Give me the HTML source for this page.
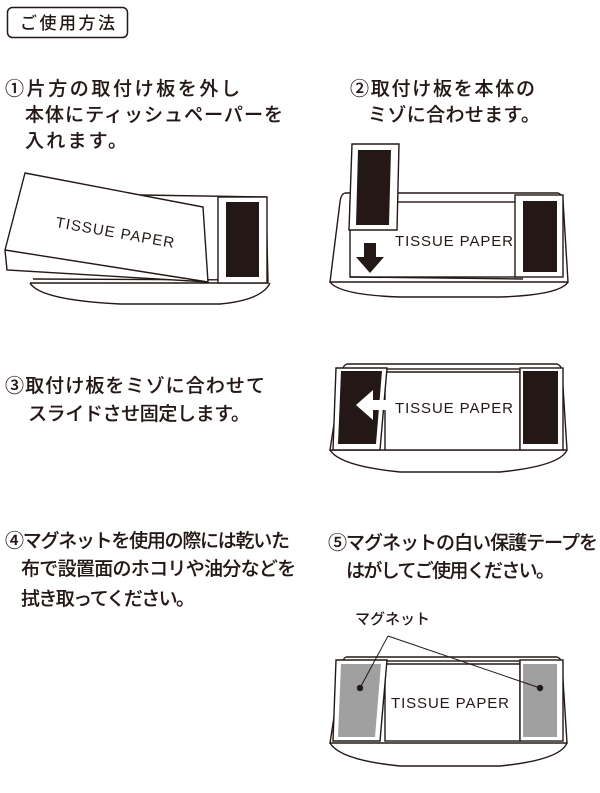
<!DOCTYPE html>
<html><head><meta charset="utf-8"><style>
html,body{margin:0;padding:0;background:#fff;}
svg{display:block;}
text{font-family:"Liberation Sans","Noto Sans CJK JP",sans-serif;fill:#231815;}
.j{font-size:19px;font-weight:500;stroke:#231815;stroke-width:0.12;}
.tp{font-size:15px;}
</style></head><body>
<svg width="600" height="793" viewBox="0 0 600 793" xmlns="http://www.w3.org/2000/svg" fill="none" stroke="#231815" stroke-width="1.4">
<rect x="7.5" y="7.5" width="120" height="30" rx="5" stroke-width="1.5"/>
<text x="20" y="29" style="font-size:17px;font-weight:500" stroke="none" textLength="95">ご使用方法</text>

<g>
<text class="j" x="5" y="95" textLength="235">①片方の取付け板を外し</text>
<text class="j" x="25" y="121" textLength="258">本体にティッシュペーパーを</text>
<text class="j" x="25" y="147" textLength="102">入れます。</text>
<text class="j" x="350" y="95" textLength="185">②取付け板を本体の</text>
<text class="j" x="368" y="121" textLength="172">ミゾに合わせます。</text>
<text class="j" x="5" y="392" textLength="260">③取付け板をミゾに合わせて</text>
<text class="j" x="28" y="420" textLength="222">スライドさせ固定します。</text>
<text class="j" x="5" y="547" textLength="285">④マグネットを使用の際には乾いた</text>
<text class="j" x="21" y="575" style="letter-spacing:-0.7px">布で設置面のホコリや油分などを</text>
<text class="j" x="21" y="605" textLength="174">拭き取ってください。</text>
<text class="j" x="328" y="549" textLength="270">⑤マグネットの白い保護テープを</text>
<text class="j" x="346" y="577" textLength="209">はがしてご使用ください。</text>
</g>

<!-- Diagram 1 -->
<path d="M30 283 L268 283 L266 197 L140 195"/>
<path d="M30 283 Q40 300 120 304 L220 304 Q262 300 270 283"/>
<path d="M33 279 L265 280"/>
<rect x="218" y="197" width="49" height="86" fill="#fff"/>
<rect x="226" y="202" width="33" height="75" fill="#231815" stroke="none"/>
<polygon points="25,173 203,207 208,282 7,270 5,250" fill="#fff"/>
<path d="M5 250 L208 282"/>
<text class="tp" x="55" y="227" stroke="none" transform="rotate(10 55 227)" textLength="120">TISSUE PAPER</text>

<!-- Diagram 2 -->
<path d="M345 193 L558 193 Q562 194 563 200 L568 282 L330 282 L340 202 Q341 194 345 193"/>
<path d="M330 282 Q340 295 400 297 L500 297 Q560 295 568 282"/>
<rect x="350" y="202" width="173" height="75" fill="#fff"/>
<path d="M350 277 L523 279"/>
<rect x="515" y="195" width="48" height="82" fill="#fff"/>
<rect x="523" y="201" width="34" height="71" fill="#231815" stroke="none"/>
<polygon points="352,144 399,144 397,230 349,230" fill="#fff"/>
<polygon points="358,150 391,150 389,225 356,225" fill="#231815" stroke="none"/>
<polygon points="364,243 376,243 376,257 384,257 370,273 356,257 364,257" fill="#231815" stroke="none"/>
<text class="tp" x="395" y="246" stroke="none" textLength="118">TISSUE PAPER</text>

<!-- Diagram 3 -->
<path d="M347 364 L557 364 Q561 365 562 371 L567 450 L330 450 L342 372 Q343 365 347 364"/>
<path d="M330 450 Q340 466 400 472 L500 472 Q560 466 567 450"/>
<rect x="385" y="369" width="135" height="81" fill="#fff"/>
<path d="M385 372 L520 372"/>
<polygon points="336,368 387,368 380,450 333,450" fill="#fff"/>
<polygon points="341,371 382,371 376,444 338,444" fill="#231815" stroke="none"/>
<polygon points="356,405 373,390 373,400 386,400 386,410 373,410 373,420" fill="#fff" stroke="none"/>
<rect x="520" y="368" width="43" height="82" fill="#fff"/>
<rect x="523" y="371" width="35" height="73" fill="#231815" stroke="none"/>
<text class="tp" x="395" y="413" stroke="none" textLength="118">TISSUE PAPER</text>

<!-- Diagram 5 -->
<path d="M346 657 L557 657 Q561 658 562 664 L567 743 L330 743 L342 665 Q343 658 346 657"/>
<path d="M330 743 Q340 760 400 766 L500 766 Q560 760 567 743"/>
<rect x="385" y="661" width="135" height="80" fill="#fff"/>
<path d="M385 664 L520 664"/>
<polygon points="336,660 387,660 380,741 333,741" fill="#fff"/>
<polygon points="341,664 381,664 375,737 338,737" fill="#a0a0a0" stroke="none"/>
<rect x="520" y="660" width="43" height="81" fill="#fff"/>
<rect x="523" y="664" width="34" height="73" fill="#a0a0a0" stroke="none"/>
<text class="tp" x="391" y="708" stroke="none" textLength="118">TISSUE PAPER</text>
<path d="M388 636 L360 688 M388 636 L540 688" stroke-width="1"/>
<circle cx="360" cy="688" r="3.2" fill="#231815" stroke="none"/>
<circle cx="540" cy="688" r="3.2" fill="#231815" stroke="none"/>
<text x="355" y="624" stroke="none" style="font-size:15px;font-weight:500" textLength="75">マグネット</text>
</svg>
</body></html>
